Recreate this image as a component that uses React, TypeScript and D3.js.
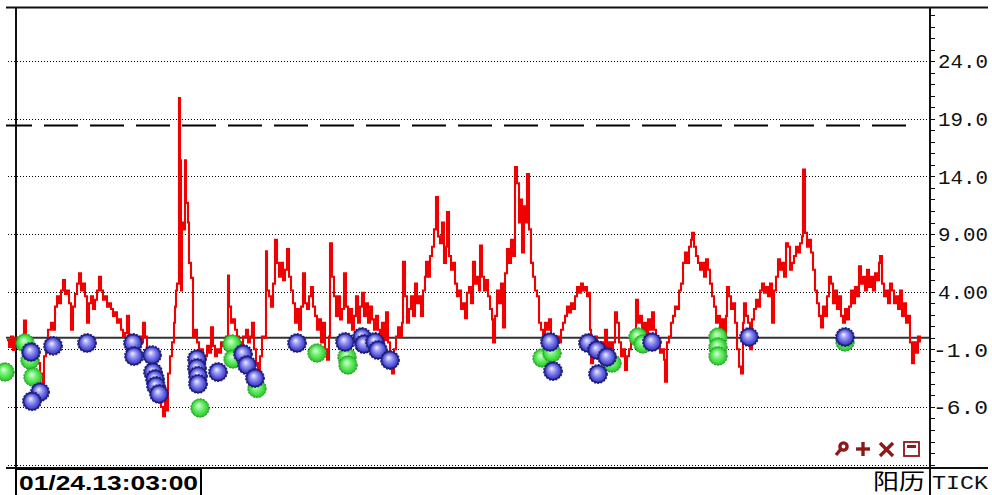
import React from 'react';
import * as d3 from 'd3';

// [tick number, value] of the red tick series
const priceTicks: [number, number][] = [
  [7,-0.2],[9,-0.8],[11,0.1],[13,-1.06],[15,0],[18,-0.45],[21,0.1],[24,1.5],[26,-0.4],[29,-1.0],
  [33,-1.6],[37,-2.2],[40,-3.1],[43,-3.9],[44,-1.6],[46,-0.4],[48,0.7],[51,1.3],[53,0.7],[55,2.7],
  [57,3.6],[59,3.0],[61,4.1],[63,5.0],[65,3.8],[67,4.1],[69,3.0],[71,0.7],[73,2.7],[75,3.8],
  [77,4.7],[79,5.6],[81,4.1],[83,4.7],[85,3.6],[87,1.3],[89,3.0],[91,3.6],[93,2.5],[95,3.3],
  [97,4.1],[99,5.3],[101,4.1],[103,3.3],[105,3.6],[107,2.7],[109,3.0],[111,2.5],[113,1.9],[115,2.2],
  [117,1.3],[119,1.6],[121,0.7],[123,0.1],[125,0.4],[127,1.9],[129,0.1],[132,-0.4],[135,-0.2],[138,0.1],
  [141,-0.4],[143,1.3],[145,0.1],[147,-1.0],[149,-2.2],[151,-3.1],[153,-3.9],[155,-4.5],[157,-3.9],[159,-5.1],
  [161,-6.0],[163,-6.8],[165,-4.5],[167,-6.3],[168,-3.1],[170,-1.6],[172,-0.4],[174,1.3],[175,2.7],[176,4.1],
  [177,4.7],[179,20.8],[180,15.4],[181,4.1],[182,10.0],[184,9.4],[185,15.4],[186,11.7],[188,10.0],[189,6.5],
  [191,5.2],[193,0.1],[195,0.7],[197,-0.4],[199,-1.6],[201,-1.0],[203,-2.2],[205,-1.6],[207,-0.7],[209,-1.3],
  [211,0.9],[213,-0.7],[215,-1.6],[217,-1.0],[219,-1.3],[221,-0.4],[223,-0.7],[226,0.1],[228,5.4],[229,2.7],
  [231,1.3],[233,1.6],[235,0.7],[237,0.1],[239,-0.4],[241,-1.6],[243,0.1],[246,0.7],[248,-0.4],[250,0.1],
  [252,1.3],[254,-1.0],[256,-2.2],[258,-3.1],[260,-1.6],[262,0.1],[264,0.0],[266,7.5],[267,4.1],[269,3.6],
  [271,2.7],[273,4.7],[275,8.5],[277,6.5],[279,5.3],[281,6.5],[283,5.0],[285,5.9],[287,7.7],[289,5.3],
  [291,4.1],[293,3.0],[295,1.3],[297,2.5],[299,0.7],[301,2.7],[303,5.6],[305,3.0],[307,2.5],[309,3.6],
  [311,4.4],[313,2.7],[315,1.9],[317,0.7],[319,1.6],[321,-0.4],[323,1.3],[325,-1.0],[327,-1.9],[329,0.1],
  [330,8.2],[332,5.3],[334,3.6],[336,1.9],[338,3.6],[340,1.6],[342,2.5],[344,5.6],[346,2.7],[348,1.3],
  [350,2.5],[352,0.7],[354,1.9],[356,3.6],[358,1.3],[360,2.7],[362,3.9],[364,1.9],[366,3.0],[368,1.3],
  [370,2.7],[372,1.6],[374,0.7],[376,1.9],[378,0.7],[380,0.1],[382,1.3],[384,-0.2],[386,2.2],[388,-0.4],
  [390,-1.6],[392,-3.1],[394,-1.0],[396,0.1],[398,0.9],[400,0.1],[402,1.3],[403,6.6],[405,3.6],[407,1.3],
  [409,2.5],[411,3.6],[413,1.9],[415,4.7],[417,3.0],[419,3.6],[421,1.9],[423,4.1],[425,5.3],[426,6.6],
  [428,5.3],[430,7.1],[432,7.9],[434,9.4],[436,12.2],[438,8.8],[440,8.2],[442,10.0],[444,6.5],[446,7.9],
  [447,10.9],[449,7.1],[451,5.9],[453,6.5],[455,4.7],[457,3.6],[459,4.1],[461,2.5],[463,3.0],[465,1.7],
  [467,3.9],[469,4.4],[471,3.0],[473,6.6],[475,4.7],[477,5.3],[479,4.1],[480,8.0],[482,5.3],[484,4.1],
  [486,5.0],[488,3.6],[490,2.5],[492,1.6],[493,-0.4],[495,1.9],[497,4.1],[499,3.0],[501,4.7],[503,0.9],
  [505,5.6],[507,7.7],[509,6.5],[511,8.5],[513,7.1],[515,14.8],[517,13.4],[519,10.0],[520,12.0],[522,7.4],
  [524,11.4],[526,10.0],[527,14.2],[529,9.4],[531,6.5],[533,5.3],[535,4.1],[537,3.6],[539,1.3],[541,0.7],
  [543,0.1],[545,1.3],[547,0.7],[549,1.6],[551,0.1],[553,-0.4],[555,-0.2],[557,0.1],[559,-0.4],[561,0.7],
  [563,1.3],[565,1.9],[567,2.7],[569,2.2],[571,3.0],[573,2.5],[575,3.6],[577,4.4],[579,3.9],[581,4.7],
  [583,4.1],[585,4.4],[587,3.6],[589,3.9],[590,0.7],[591,-2.2],[593,-0.4],[595,0.1],[597,-0.7],[599,-1.3],
  [601,-0.4],[603,-1.6],[605,0.7],[607,-1.0],[609,-0.4],[611,-1.6],[613,-0.4],[615,2.2],[617,1.3],[619,-0.4],
  [621,-1.6],[623,-1.0],[625,-2.8],[627,-1.6],[629,-1.0],[631,-0.4],[633,0.1],[635,0.7],[636,3.3],[638,1.3],
  [640,1.9],[642,0.7],[644,1.3],[646,0.4],[648,1.6],[650,0.7],[652,2.2],[654,0.7],[656,0.1],[658,-0.4],
  [660,-1.3],[662,-1.0],[664,-1.9],[665,-3.8],[667,-0.4],[669,0.1],[671,1.3],[673,1.9],[675,2.7],[677,2.5],
  [679,4.1],[681,4.7],[683,6.5],[685,7.4],[687,6.5],[689,7.9],[691,8.5],[692,9.1],[694,7.9],[696,7.1],
  [698,6.5],[700,5.9],[702,6.5],[704,5.3],[706,6.8],[708,5.9],[710,4.7],[712,3.6],[714,2.7],[716,1.3],
  [718,1.9],[720,0.7],[722,1.6],[724,0.1],[726,1.9],[727,4.4],[729,3.6],[731,2.5],[733,3.0],[735,1.3],
  [737,-1.0],[739,-2.5],[741,-3.1],[743,1.3],[744,3.0],[746,1.9],[748,1.3],[750,-1.0],[752,1.6],[754,2.5],
  [756,3.3],[758,2.7],[760,4.1],[762,4.7],[764,3.9],[766,4.4],[768,3.6],[770,4.7],[772,1.3],[774,4.1],
  [776,5.3],[778,6.8],[780,5.9],[782,6.5],[784,5.3],[786,8.2],[788,7.9],[790,5.9],[792,6.5],[794,7.1],
  [796,7.9],[798,7.4],[800,8.2],[802,8.8],[803,14.6],[805,9.1],[807,7.9],[809,8.5],[811,7.4],[813,5.9],
  [815,4.1],[817,3.0],[819,1.9],[821,0.9],[823,2.7],[825,1.9],[827,3.6],[829,5.3],[831,4.7],[833,3.0],
  [835,4.1],[837,2.5],[839,3.6],[841,1.9],[843,1.3],[845,2.5],[847,1.6],[849,2.7],[851,4.1],[853,3.0],
  [855,4.4],[857,3.6],[859,6.2],[861,4.7],[863,5.3],[865,4.1],[867,5.9],[869,4.4],[871,5.3],[873,4.1],
  [875,5.6],[877,5.0],[879,6.5],[880,7.1],[882,4.7],[884,3.6],[886,4.1],[888,3.0],[890,4.7],[892,4.1],
  [894,3.0],[896,3.6],[898,2.5],[900,4.1],[902,1.9],[904,3.0],[906,1.3],[908,1.9],[910,-0.4],[912,-2.2],
  [914,-0.4],[916,-1.3],[918,0.1],[920,-0.4],
];

// [tick number, value] of the blue (buy) markers
const blueMarks: [number, number][] = [
  [31,-1.23],[40,-4.7],[32,-5.5],[53,-0.7],[87,-0.45],[133,-0.45],[134,-1.58],[152,-1.5],[153,-2.97],
  [155,-3.57],[156,-4.18],[159,-4.87],[197,-1.84],[197,-2.62],[198,-3.3],[198,-4.0],[218,-2.97],
  [243,-1.4],[247,-2.36],[255,-3.49],[297,-0.45],[345,-0.36],[362,0.07],[364,-0.54],[375,-0.36],
  [378,-1.06],[390,-1.93],[550,-0.36],[553,-2.88],[588,-0.45],[597,-1.06],[607,-1.67],[598,-3.14],
  [652,-0.36],[749,0.07],[845,0.07],
];

// [tick number, value] of the green (sell) markers
const greenMarks: [number, number][] = [
  [5,-2.97],[25,-0.45],[30,-1.93],[33,-3.4],[200,-6.09],[232,-0.54],[233,-1.84],[257,-4.4],
  [317,-1.32],[347,-1.67],[348,-2.36],[542,-1.75],[552,-1.32],[612,-2.2],[638,0.07],[643,-0.54],
  [718,0.07],[718,-0.8],[718,-1.58],[845,-0.36],
];

const gridValues = [-11, -6, -1, 4, 9, 14, 19, 24];
const labelValues = [24, 19, 14, 9, 4, -1, -6];
const labelTexts = ['24.0', '19.0', '14.0', '9.00', '4.00', '-1.0', '-6.0'];
const zeroLevel = 0;
const dashLevel = 18.5;
const cursorTick = 16;
const cursorLabel = '01/24.13:03:00';
const calendarLabel = '阳历';
const periodLabel = 'TICK';

export default function App() {
  const W = 992;
  const H = 495;
  const left = 6;
  const axisX = 930;
  const x = d3.scaleLinear().domain([5, 920]).range([5, 920]);
  const y = d3.scaleLinear().domain([-11, 24]).range([464.6, 61.1]);
  const line = d3
    .line<[number, number]>()
    .x((d) => x(d[0]))
    .y((d) => y(d[1]))
    .curve(d3.curveStepAfter);
  const minorTicks = d3.range(-11, 29, 1);
  const red = '#8b1a1a';

  const marker = (d: [number, number], i: number, kind: 'b' | 'g') => {
    const cx = x(d[0]);
    const cy = y(d[1]);
    if (kind === 'b') {
      return (
        <g key={'b' + i}>
          <circle cx={cx} cy={cy} r={9.2} fill="#1c1c78" stroke="#20207e" strokeWidth={1.4} strokeDasharray="2 1.3" />
          <circle cx={cx} cy={cy} r={7.8} fill="url(#gBlue)" />
        </g>
      );
    }
    return (
      <g key={'g' + i}>
        <circle cx={cx} cy={cy} r={9.2} fill="#34b834" stroke="#2a9a2a" strokeWidth={1} strokeDasharray="2 1.3" />
        <circle cx={cx} cy={cy} r={8.2} fill="url(#gGreen)" />
      </g>
    );
  };

  return (
    <svg
      width={W}
      height={H}
      style={{ position: 'absolute', left: 0, top: 0, background: '#fff' }}
      fontFamily="'Liberation Mono', monospace"
    >
      <defs>
        <radialGradient id="gBlue" cx="0.5" cy="0.5" r="0.55" fx="0.4" fy="0.33">
          <stop offset="0" stopColor="#f2f2ff" />
          <stop offset="0.35" stopColor="#a0a0f6" />
          <stop offset="0.75" stopColor="#5656dc" />
          <stop offset="1" stopColor="#3a3ab4" />
        </radialGradient>
        <radialGradient id="gGreen" cx="0.5" cy="0.5" r="0.55" fx="0.4" fy="0.33">
          <stop offset="0" stopColor="#e4ffe4" />
          <stop offset="0.35" stopColor="#86f486" />
          <stop offset="0.75" stopColor="#44dc44" />
          <stop offset="1" stopColor="#2cc02c" />
        </radialGradient>
        <clipPath id="plotClip">
          <rect x={0} y={8} width={axisX} height={460} />
        </clipPath>
      </defs>

      {/* dotted grid */}
      {gridValues.map((v) => (
        <line key={'g' + v} x1={8} x2={axisX - 1} y1={Math.round(y(v)) + 0.5} y2={Math.round(y(v)) + 0.5}
          stroke="#000" strokeWidth={1} strokeDasharray="1 2" />
      ))}

      {/* dashed level */}
      <line x1={left} x2={910} y1={Math.round(y(dashLevel)) + 0.5} y2={Math.round(y(dashLevel)) + 0.5}
        stroke="#000" strokeWidth={2} strokeDasharray="34 12" strokeDashoffset={8} />

      {/* zero line */}
      <line x1={left} x2={axisX} y1={y(zeroLevel)} y2={y(zeroLevel)} stroke="#333" strokeWidth={2} />

      {/* frame */}
      <line x1={left} x2={988} y1={7.5} y2={7.5} stroke="#111" strokeWidth={2} />
      <line x1={left} x2={988} y1={468} y2={468} stroke="#111" strokeWidth={2} />
      <line x1={x(cursorTick)} x2={x(cursorTick)} y1={7} y2={470} stroke="#111" strokeWidth={2} />

      {/* red tick line */}
      <path d={line(priceTicks) || ''} fill="none" stroke="#f00000" strokeWidth={2.1} clipPath="url(#plotClip)" />

      {/* markers */}
      {greenMarks.map((d, i) => marker(d, i, 'g'))}
      {blueMarks.map((d, i) => marker(d, i, 'b'))}

      {/* right axis */}
      <line x1={axisX} x2={axisX} y1={7} y2={H} stroke="#111" strokeWidth={2} />
      {minorTicks.map((v) => (
        <line key={'t' + v} x1={axisX} x2={axisX + 5} y1={Math.round(y(v)) + 0.5} y2={Math.round(y(v)) + 0.5}
          stroke="#111" strokeWidth={1} />
      ))}
      {labelValues.map((v, i) => (
        <text key={'l' + v} x={labelTexts[i].startsWith('-') ? 933 : 938} y={y(v)} dy="0.36em" fontSize={20.5}
          fill="#111" textLength={labelTexts[i].startsWith('-') ? 55 : 50} lengthAdjust="spacingAndGlyphs">
          {labelTexts[i]}
        </text>
      ))}

      {/* toolbar icons */}
      <g stroke={red} strokeWidth={3.4} fill="none">
        <circle cx={843.5} cy={446.5} r={3.6} />
        <line x1={841} x2={836} y1={449} y2={455} />
        <line x1={856} x2={870} y1={449} y2={449} />
        <line x1={863} x2={863} y1={442} y2={456} />
        <line x1={880} x2={893} y1={443} y2={456} />
        <line x1={893} x2={880} y1={443} y2={456} />
      </g>
      <rect x={904} y={442} width={15} height={14} fill="none" stroke={red} strokeWidth={1.8} />
      <rect x={907} y={445} width={9} height={3} fill={red} />

      {/* bottom labels */}
      <rect x={x(cursorTick)} y={469} width={185} height={30} fill="#fff" stroke="#000" strokeWidth={2} />
      <text x={19} y={490} fontFamily="'Liberation Sans', Arial, sans-serif" fontWeight="bold" fontSize={21}
        textLength={179} lengthAdjust="spacingAndGlyphs" fill="#000">
        {cursorLabel}
      </text>
      <text x={873} y={489} fontFamily="'Noto Sans CJK SC', sans-serif" fontSize={22} fill="#000"
        textLength={52} lengthAdjust="spacingAndGlyphs">
        {calendarLabel}
      </text>
      <text x={932} y={489} fontSize={20} fill="#111" textLength={56} lengthAdjust="spacingAndGlyphs">
        {periodLabel}
      </text>
    </svg>
  );
}
